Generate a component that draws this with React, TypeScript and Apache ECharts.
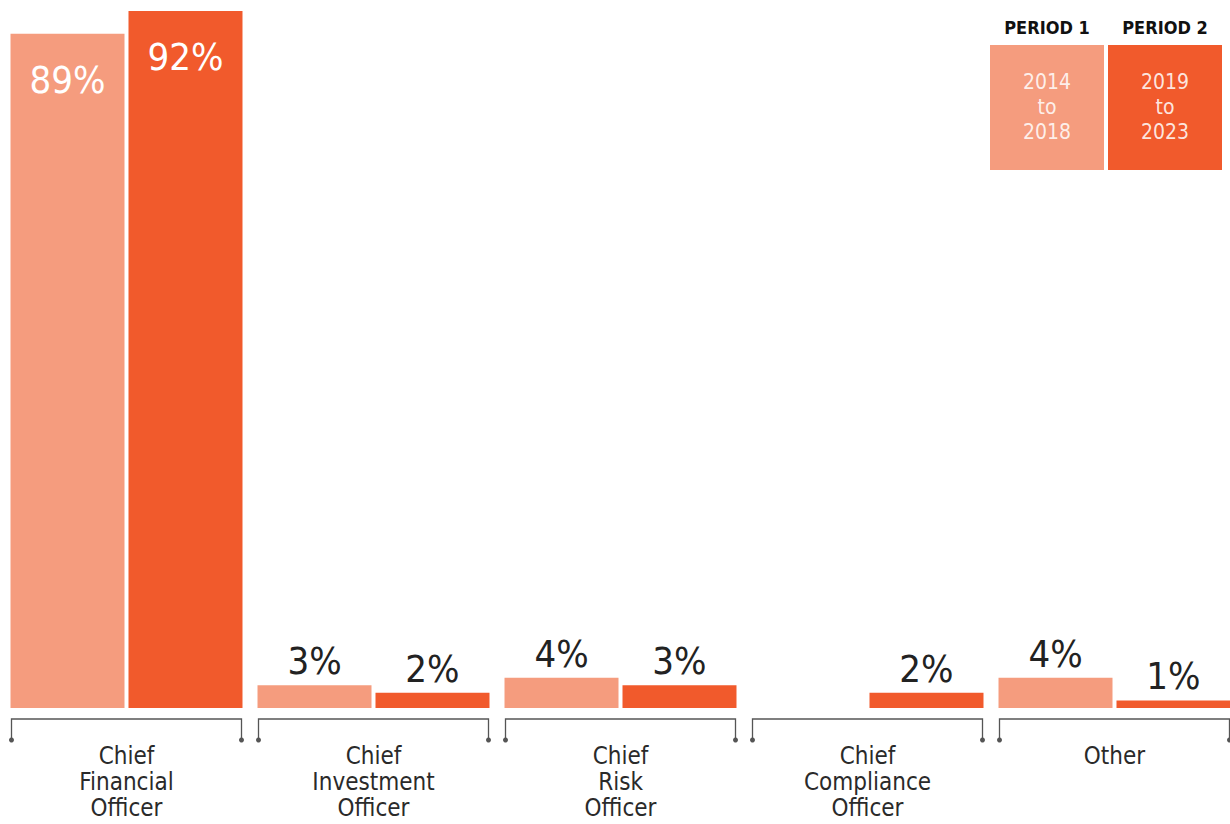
import React, { useEffect, useRef } from "react";
import * as echarts from "echarts";

const categories = [
  "Chief\nFinancial\nOfficer",
  "Chief\nInvestment\nOfficer",
  "Chief\nRisk\nOfficer",
  "Chief\nCompliance\nOfficer",
  "Other",
];
const period1 = [89, 3, 4, 0, 4];
const period2 = [92, 2, 3, 2, 1];
const periodNames = ["PERIOD 1", "PERIOD 2"];
const periodRanges = ["2014\nto\n2018", "2019\nto\n2023"];
const colors = ["#F59C7E", "#F15A2C"];

const FONT = "'DejaVu Sans Condensed', 'Liberation Sans Narrow', 'Noto Sans', sans-serif";

function itemData(values: number[]) {
  return values.map((v) => ({
    value: v,
    label:
      v >= 50
        ? { show: true, position: "insideTop", distance: 27, color: "#ffffff" }
        : { show: v > 0, position: "top", distance: 5, color: "#222222" },
  }));
}

export default function App() {
  const ref = useRef<HTMLDivElement>(null);
  useEffect(() => {
    if (!ref.current) return;
    const chart = echarts.init(ref.current, null, { renderer: "svg" });
    const barLabel = {
      fontFamily: FONT,
      fontSize: 38,
      formatter: (p: any) => `${p.value}%`,
    };
    const legendChildren: any[] = [];
    periodNames.forEach((name, i) => {
      const x = 990 + i * 118;
      legendChildren.push({
        type: "text",
        x: x + 57,
        y: 27,
        style: {
          text: name,
          fontFamily: FONT,
          fontSize: 18,
          fontWeight: "bold",
          fill: "#111111",
          align: "center",
          verticalAlign: "middle",
        },
      });
      legendChildren.push({
        type: "rect",
        shape: { x, y: 45, width: 114, height: 125 },
        style: { fill: colors[i] },
      });
      legendChildren.push({
        type: "text",
        x: x + 57,
        y: 107,
        style: {
          text: periodRanges[i],
          fontFamily: FONT,
          fontSize: 21,
          lineHeight: 25,
          fill: "rgba(255,255,255,0.85)",
          align: "center",
          verticalAlign: "middle",
        },
      });
    });
    chart.setOption({
      animation: false,
      grid: { left: 3, top: 11, right: 0, bottom: 116, containLabel: false },
      xAxis: {
        type: "category",
        data: categories,
        axisLine: { show: false },
        axisTick: { show: false },
        axisLabel: {
          margin: 35,
          fontFamily: FONT,
          fontSize: 24,
          lineHeight: 26,
          color: "#2a2a2a",
          interval: 0,
        },
      },
      yAxis: { type: "value", min: 0, max: 92, show: false },
      series: [
        {
          type: "bar",
          name: periodNames[0],
          data: itemData(period1),
          barWidth: 114,
          barGap: "3.5%",
          itemStyle: { color: colors[0] },
          label: barLabel,
        },
        {
          type: "bar",
          name: periodNames[1],
          data: itemData(period2),
          barWidth: 114,
          barGap: "3.5%",
          itemStyle: { color: colors[1] },
          label: barLabel,
        },
        {
          type: "custom",
          data: categories.map((_, i) => [i, 0]),
          silent: true,
          clip: false,
          renderItem: (params: any, api: any) => {
            const c = api.coord([api.value(0), 0]);
            const x0 = c[0] - 115;
            const x1 = c[0] + 115;
            const yTop = c[1] + 11;
            const yBot = c[1] + 32;
            return {
              type: "group",
              children: [
                {
                  type: "polyline",
                  shape: { points: [[x0, yBot], [x0, yTop], [x1, yTop], [x1, yBot]] },
                  style: { stroke: "#555555", lineWidth: 1.3, fill: "none" },
                },
                { type: "circle", shape: { cx: x0, cy: yBot, r: 2.5 }, style: { fill: "#555555" } },
                { type: "circle", shape: { cx: x1, cy: yBot, r: 2.5 }, style: { fill: "#555555" } },
              ],
            };
          },
        },
      ],
      graphic: [{ type: "group", children: legendChildren }],
    });
    return () => chart.dispose();
  }, []);
  return (
    <div
      style={{
        position: "absolute",
        left: 0,
        top: 0,
        width: 1230,
        height: 824,
        overflow: "hidden",
      }}
    >
      <div ref={ref} style={{ width: 1238, height: 824 }} />
    </div>
  );
}
